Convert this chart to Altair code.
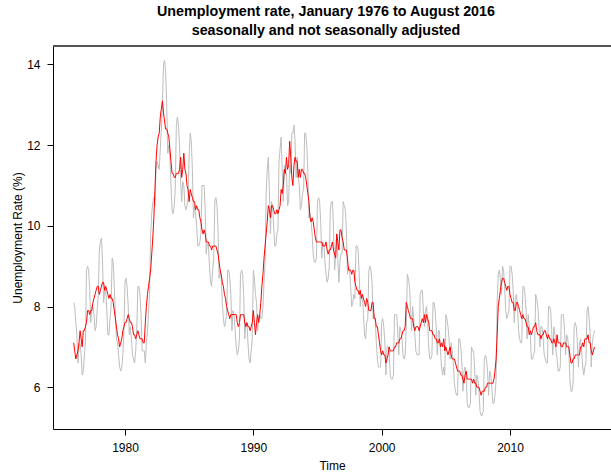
import altair as alt
import pandas as pd

# Monthly unemployment rate (%), January 1976 to August 2016, one row per year
sa_rate = [
    7.1, 6.9, 6.7, 6.8, 6.9, 7.1, 7.4, 7.2, 7.0, 7.4, 7.4, 7.5,
    7.6, 7.9, 7.9, 7.8, 7.9, 7.9, 8.1, 8.2, 8.3, 8.4, 8.5, 8.5,
    8.3, 8.4, 8.5, 8.6, 8.6, 8.4, 8.5, 8.4, 8.3, 8.2, 8.3, 8.2,
    8.2, 8.1, 7.9, 7.7, 7.5, 7.3, 7.2, 7.0, 7.1, 7.2, 7.4, 7.5,
    7.6, 7.6, 7.7, 7.8, 7.7, 7.6, 7.6, 7.5, 7.3, 7.3, 7.2, 7.3,
    7.4, 7.3, 7.2, 7.2, 7.2, 7.1, 7.1, 7.6, 8.0, 8.3, 8.5, 8.7,
    8.9, 9.3, 9.7, 10.2, 10.9, 11.6, 12.0, 12.2, 12.3, 12.7, 12.9, 13.1,
    12.8, 12.6, 12.4, 12.4, 12.3, 12.2, 11.9, 11.6, 11.3, 11.3, 11.2, 11.2,
    11.3, 11.3, 11.3, 11.4, 11.7, 11.2, 11.4, 11.8, 11.4, 11.3, 11.0, 10.9,
    10.6, 10.9, 10.8, 10.7, 10.6, 10.6, 10.4, 10.5, 10.4, 10.4, 10.2, 10.1,
    9.9, 9.8, 9.9, 9.8, 9.6, 9.6, 9.6, 9.5, 9.5, 9.4, 9.5, 9.5,
    9.5, 9.5, 9.4, 9.3, 9.1, 8.9, 8.8, 8.6, 8.5, 8.3, 8.2, 8.0,
    7.9, 7.8, 7.7, 7.8, 7.8, 7.8, 7.8, 7.8, 7.8, 7.6, 7.5, 7.6,
    7.8, 7.8, 7.8, 7.8, 7.6, 7.5, 7.6, 7.5, 7.5, 7.4, 7.5, 7.6,
    7.9, 7.6, 7.3, 7.6, 7.8, 7.6, 7.8, 8.1, 8.5, 8.8, 9.2, 9.5,
    9.8, 10.1, 10.5, 10.4, 10.2, 10.5, 10.5, 10.4, 10.3, 10.3, 10.4, 10.3,
    10.4, 10.5, 10.9, 10.8, 11.0, 11.4, 11.3, 11.7, 11.4, 11.5, 12.1, 11.7,
    11.2, 11.0, 11.5, 11.7, 11.6, 11.6, 11.2, 11.4, 11.2, 11.4, 11.4, 11.3,
    11.3, 11.2, 11.0, 10.8, 10.6, 10.2, 10.1, 10.2, 10.1, 9.9, 9.7, 9.6,
    9.6, 9.6, 9.6, 9.6, 9.6, 9.5, 9.5, 9.5, 9.6, 9.4, 9.3, 9.4,
    9.4, 9.5, 9.6, 9.4, 9.3, 9.2, 9.8, 9.6, 9.4, 9.9, 9.9, 9.7,
    9.6, 9.4, 9.4, 9.4, 9.2, 8.9, 8.9, 8.9, 8.8, 8.9, 8.9, 8.6,
    8.5, 8.4, 8.4, 8.3, 8.4, 8.2, 8.3, 8.2, 8.1, 8.0, 8.2, 8.1,
    7.9, 7.9, 7.9, 8.1, 8.1, 7.7, 7.7, 7.5, 7.5, 7.3, 7.1, 6.9,
    6.8, 6.9, 6.8, 6.8, 6.6, 6.7, 6.8, 7.0, 6.9, 6.9, 6.9, 6.9,
    7.0, 7.0, 7.1, 7.1, 7.1, 7.2, 7.2, 7.3, 7.4, 7.4, 7.5, 8.1,
    8.0, 7.9, 7.8, 7.7, 7.7, 7.7, 7.5, 7.4, 7.5, 7.5, 7.5, 7.4,
    7.5, 7.6, 7.7, 7.6, 7.8, 7.6, 7.8, 7.7, 7.6, 7.4, 7.4, 7.4,
    7.3, 7.3, 7.2, 7.2, 7.1, 7.1, 7.2, 7.0, 7.1, 7.0, 7.2, 6.9,
    7.0, 6.9, 6.8, 6.9, 7.0, 6.8, 6.7, 6.7, 6.7, 6.6, 6.5, 6.4,
    6.4, 6.4, 6.3, 6.3, 6.2, 6.1, 6.3, 6.4, 6.2, 6.2, 6.2, 6.2,
    6.2, 6.1, 6.2, 6.1, 6.1, 6.0, 6.0, 6.0, 5.9, 5.8, 5.9, 5.9,
    5.9, 6.0, 6.0, 6.1, 6.1, 6.1, 6.1, 6.1, 6.1, 6.2, 6.4, 6.7,
    7.3, 8.0, 8.2, 8.4, 8.6, 8.7, 8.7, 8.6, 8.5, 8.4, 8.5, 8.5,
    8.3, 8.2, 8.1, 8.1, 7.9, 7.9, 8.1, 8.1, 8.0, 7.9, 7.8, 7.7,
    7.8, 7.7, 7.7, 7.6, 7.5, 7.5, 7.3, 7.4, 7.3, 7.4, 7.5, 7.5,
    7.6, 7.4, 7.3, 7.3, 7.3, 7.2, 7.3, 7.3, 7.4, 7.4, 7.3, 7.2,
    7.3, 7.2, 7.2, 7.1, 7.1, 7.2, 7.1, 7.0, 7.3, 7.1, 7.1, 7.1,
    7.0, 7.0, 7.1, 7.1, 7.1, 7.0, 7.0, 7.0, 6.8, 6.6, 6.6, 6.7,
    6.7, 6.8, 6.8, 6.8, 6.8, 6.8, 7.0, 7.0, 7.1, 7.0, 7.2, 7.2,
    7.2, 7.3, 7.1, 7.1, 6.9, 6.8, 6.9, 7.0,
]

nsa_rate = [
    8.1, 8.0, 7.6, 7.3, 6.6, 7.0, 7.1, 6.8, 6.3, 6.4, 6.8, 7.1,
    8.9, 9.0, 8.9, 8.4, 7.6, 8.0, 8.0, 7.8, 7.4, 7.5, 7.9, 8.3,
    9.4, 9.6, 9.7, 9.1, 8.1, 8.4, 8.4, 7.9, 7.3, 7.3, 7.7, 8.0,
    9.2, 9.1, 8.5, 7.8, 7.2, 7.1, 6.8, 6.5, 6.4, 6.5, 6.8, 7.4,
    8.6, 8.7, 8.5, 8.0, 7.3, 7.5, 7.2, 6.8, 6.7, 6.6, 6.9, 7.4,
    8.5, 8.5, 8.3, 7.8, 6.9, 6.9, 6.9, 6.6, 7.1, 7.4, 7.8, 8.4,
    9.8, 10.3, 10.6, 10.7, 10.5, 11.4, 11.6, 11.5, 11.4, 11.9, 12.4, 13.0,
    14.0, 14.1, 13.8, 13.0, 11.8, 12.0, 11.7, 11.0, 10.4, 10.3, 10.5, 10.9,
    12.5, 12.7, 12.5, 12.0, 11.1, 10.6, 11.1, 11.0, 10.5, 10.4, 10.5, 10.7,
    11.8, 12.3, 12.1, 11.4, 10.2, 10.5, 10.3, 10.0, 9.5, 9.5, 9.6, 9.8,
    11.0, 11.0, 11.0, 10.4, 9.3, 9.6, 9.5, 9.0, 8.6, 8.5, 8.9, 9.2,
    10.6, 10.7, 10.5, 9.9, 8.7, 8.9, 8.7, 8.1, 7.7, 7.5, 7.6, 7.8,
    8.9, 8.9, 8.7, 8.3, 7.4, 7.9, 7.8, 7.4, 7.0, 6.8, 6.9, 7.2,
    8.8, 8.9, 8.8, 8.3, 7.2, 7.6, 7.6, 7.1, 6.7, 6.6, 6.9, 7.2,
    8.9, 8.7, 8.3, 8.1, 7.4, 7.7, 7.8, 7.7, 7.7, 8.0, 8.6, 9.1,
    10.8, 11.4, 11.7, 10.9, 9.8, 10.6, 10.5, 10.0, 9.5, 9.5, 9.8, 9.9,
    11.6, 11.9, 12.2, 11.4, 10.6, 11.5, 11.3, 11.3, 10.5, 10.6, 11.5, 11.3,
    12.3, 12.3, 12.5, 12.1, 11.2, 11.7, 11.2, 11.0, 10.4, 10.5, 10.8, 10.9,
    12.3, 12.3, 12.0, 11.3, 10.2, 10.3, 10.1, 9.8, 9.3, 9.1, 9.1, 9.2,
    10.6, 10.7, 10.6, 10.1, 9.2, 9.6, 9.5, 9.1, 8.8, 8.6, 8.7, 9.0,
    10.4, 10.6, 10.6, 9.9, 8.9, 9.3, 9.8, 9.2, 8.6, 9.1, 9.3, 9.3,
    10.6, 10.5, 10.4, 9.9, 8.8, 9.0, 8.9, 8.5, 8.0, 8.1, 8.3, 8.2,
    9.5, 9.5, 9.4, 8.8, 8.0, 8.3, 8.3, 7.8, 7.3, 7.2, 7.6, 7.7,
    8.9, 9.0, 8.9, 8.6, 7.7, 7.8, 7.7, 7.1, 6.7, 6.5, 6.5, 6.5,
    7.6, 7.7, 7.5, 7.1, 6.3, 7.0, 7.0, 6.9, 6.3, 6.2, 6.2, 6.3,
    7.8, 7.8, 7.8, 7.4, 6.8, 7.5, 7.4, 7.2, 6.8, 6.7, 6.8, 7.5,
    8.8, 8.7, 8.5, 8.0, 7.4, 8.0, 7.7, 7.3, 6.9, 6.8, 6.8, 6.8,
    8.3, 8.4, 8.4, 7.9, 7.5, 7.9, 8.0, 7.6, 7.0, 6.7, 6.7, 6.8,
    8.1, 8.1, 7.9, 7.5, 6.8, 7.4, 7.4, 6.9, 6.5, 6.3, 6.5, 6.3,
    7.8, 7.7, 7.5, 7.2, 6.7, 7.1, 6.9, 6.6, 6.1, 5.9, 5.8, 5.8,
    7.2, 7.2, 7.0, 6.6, 5.9, 6.4, 6.5, 6.3, 5.6, 5.5, 5.5, 5.6,
    7.0, 6.9, 6.9, 6.4, 5.8, 6.3, 6.2, 5.9, 5.4, 5.3, 5.3, 5.4,
    6.7, 6.8, 6.7, 6.4, 5.8, 6.4, 6.3, 6.0, 5.6, 5.6, 5.8, 6.2,
    8.1, 8.8, 8.9, 8.7, 8.3, 9.0, 8.9, 8.5, 7.9, 7.7, 7.8, 7.9,
    9.0, 9.0, 8.8, 8.4, 7.6, 8.2, 8.3, 8.0, 7.4, 7.2, 7.1, 7.1,
    8.5, 8.5, 8.3, 7.9, 7.2, 7.8, 7.5, 7.3, 6.7, 6.7, 6.8, 6.9,
    8.3, 8.2, 8.0, 7.6, 7.0, 7.5, 7.5, 7.2, 6.8, 6.7, 6.6, 6.6,
    8.0, 8.0, 7.9, 7.4, 6.8, 7.5, 7.3, 6.9, 6.7, 6.4, 6.4, 6.5,
    7.8, 7.8, 7.8, 7.4, 6.8, 7.3, 7.2, 6.9, 6.2, 5.9, 5.9, 6.1,
    7.5, 7.6, 7.5, 7.1, 6.5, 7.1, 7.2, 6.9, 6.5, 6.3, 6.5, 6.6,
    7.9, 8.0, 7.7, 7.3, 6.5, 7.1, 7.3, 7.4,
]

start_year = 1976
year_ticks = [1980, 1990, 2000, 2010]
rate_ticks = [6, 8, 10, 12, 14]

FONT = "Liberation Sans"
W, H = 558, 383

# decimal time for each month
times = [start_year + i / 12 for i in range(len(sa_rate))]
df = pd.DataFrame({
    "time": times * 2,
    "rate": nsa_rate + sa_rate,
    "series": ["Not seasonally adjusted"] * len(nsa_rate) + ["Seasonally adjusted"] * len(sa_rate),
})

x_scale = alt.Scale(domain=[1974.39, 2017.87], nice=False, zero=False)
y_scale = alt.Scale(domain=[4.964, 14.458], nice=False, zero=False)

axis_style = dict(
    labelFont=FONT, titleFont=FONT, labelFontSize=12, titleFontSize=12,
    labelColor="black", titleColor="black", titleFontWeight="normal",
    domainColor="black", tickColor="black", domainWidth=1, tickWidth=1,
    grid=False, tickSize=6,
)

x_enc = alt.X("time:Q", scale=x_scale, axis=alt.Axis(
    values=year_ticks, format="d", title="Time",
    labelPadding=7, titleY=36, titleBaseline="middle", **axis_style,
))
y_enc = alt.Y("rate:Q", scale=y_scale, axis=alt.Axis(
    values=rate_ticks, title="Unemployment Rate (%)",
    labelPadding=7, labelAngle=0,
    titleX=-36, titleY=H / 2, titleBaseline="middle", titleAlign="center", titleAngle=270,
    **axis_style,
))

nsa_line = alt.Chart(df).transform_filter(
    alt.datum.series == "Not seasonally adjusted"
).mark_line(color="#BEBEBE", strokeWidth=1).encode(x=x_enc, y=y_enc)

sa_line = alt.Chart(df).transform_filter(
    alt.datum.series == "Seasonally adjusted"
).mark_line(color="#FF0000", strokeWidth=1).encode(x=x_enc, y=y_enc)

# upper edge of the plot frame
frame_top = alt.Chart(df).mark_rule(color="#555555", strokeWidth=1).encode(
    x=alt.value(0), x2=alt.value(W), y=alt.value(0)
)

chart = alt.layer(nsa_line, sa_line, frame_top).properties(
    width=W,
    height=H,
    background="white",
    autosize=alt.AutoSizeParams(type="none"),
    padding={"left": 53, "top": 46, "right": 0, "bottom": 44},
    title=alt.TitleParams(
        text=["Unemployment rate, January 1976 to August 2016",
              "seasonally and not seasonally adjusted"],
        font=FONT, fontSize=14.3, fontWeight="bold", color="black",
        anchor="middle", frame="group", baseline="alphabetic",
        lineHeight=19.5, offset=-4, dx=-6,
    ),
).configure_view(stroke=None)

chart.save("out.html", embed_options={"renderer": "svg", "actions": False})
